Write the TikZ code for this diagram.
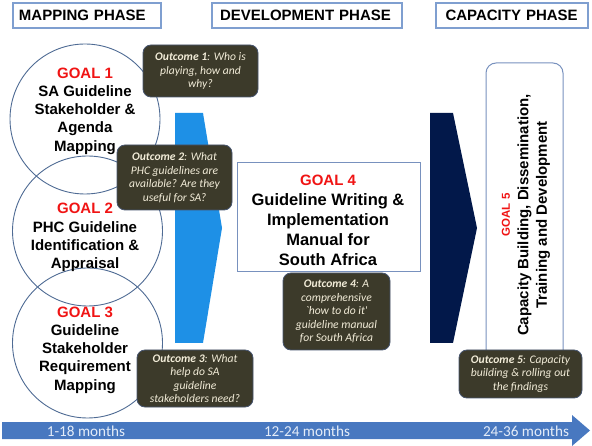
\documentclass[tikz,border=0pt]{standalone}
\usepackage{fontspec}
\setmainfont{Liberation Sans}
\newfontfamily\outfont{Carlito}
\definecolor{chevblue}{RGB}{30,144,230}
\definecolor{navy}{RGB}{2,24,74}
\definecolor{outfill}{RGB}{60,58,42}
\definecolor{outdraw}{RGB}{70,84,110}
\definecolor{outtext}{RGB}{242,236,216}
\definecolor{circdraw}{RGB}{79,107,148}
\definecolor{phasedraw}{RGB}{127,159,208}
\definecolor{boxdraw}{RGB}{120,145,190}
\definecolor{goalred}{RGB}{240,20,20}
\definecolor{timeblue}{RGB}{72,120,192}
\definecolor{timetext}{RGB}{228,236,248}
\begin{document}
\begin{tikzpicture}[x=1pt,y=-1pt,
  phasebox/.style={draw=phasedraw, line width=1.2pt, fill=white, minimum height=25pt,
    align=left, font=\bfseries\fontsize{15}{18}\selectfont, inner ysep=0pt},
  goalcircle/.style={draw=circdraw, line width=0.9pt, circle, minimum size=150pt, inner sep=0pt},
  goaltext/.style={align=center, font=\bfseries\fontsize{15}{18.3}\selectfont, inner sep=0pt},
  outbox/.style={draw=outdraw, line width=0.8pt, fill=outfill, rounded corners=8pt,
    text=outtext, align=center, inner sep=2pt,
    font=\outfont\itshape\fontsize{11.6}{13.6}\selectfont},
  whitebox/.style={draw=boxdraw, line width=1pt, fill=white, inner sep=0pt},
  monthtext/.style={text=timetext, font=\outfont\fontsize{15.2}{16}\selectfont, inner sep=0pt}
]
\useasboundingbox (0,0) rectangle (592,446);

% phase headers
\node[phasebox, minimum width=148pt, text width=136pt, inner xsep=6pt] (ph1) at (87,15.5) {MAPPING PHASE};
\node[phasebox, minimum width=190pt, text width=174pt, inner xsep=8pt] (ph2) at (307,15.5) {DEVELOPMENT PHASE};
\node[phasebox, minimum width=152pt, text width=133pt, inner xsep=9.5pt] (ph3) at (512,15.5) {CAPACITY PHASE};

% circles
\node[goalcircle] (c1) at (85,119) {};
\node[goalcircle] (c2) at (87.5,231) {};
\node[goalcircle] (c3) at (87.5,343) {};
\node[goaltext] (g1) at (85,111) {\textcolor{goalred}{GOAL 1}\\SA Guideline\\Stakeholder \&\\Agenda\\Mapping};
\node[goaltext] (g2) at (85,237.5) {\textcolor{goalred}{GOAL 2}\\PHC Guideline\\Identification \&\\Appraisal};
\node[goaltext] (g3) at (85,350) {\textcolor{goalred}{GOAL 3}\\Guideline\\Stakeholder\\Requirement\\Mapping};

% chevrons
\fill[chevblue] (175,113) -- (203,113) -- (222,228) -- (203,343) -- (175,343) -- cycle;
\fill[navy] (430,113) -- (453,113) -- (477,228) -- (453,343) -- (430,343) -- cycle;

% goal 4
\node[whitebox, minimum width=183pt, minimum height=109pt] (g4box) at (328.5,217.5) {};
\node[align=center, inner sep=0pt, font=\bfseries\fontsize{16.5}{20}\selectfont] (g4) at (328,220)
  {{\fontsize{15}{20}\selectfont\textcolor{goalred}{GOAL 4}}\\Guideline Writing \&\\Implementation\\Manual for\\South Africa};

% goal 5
\node[whitebox, rounded corners=10pt, minimum width=77pt, minimum height=300pt] (g5box) at (524.5,213) {};
\node[rotate=90, align=center, inner sep=0pt, font=\bfseries\fontsize{15}{18.5}\selectfont] (g5) at (526,215)
  {{\fontsize{11.5}{18.5}\selectfont\textcolor{goalred}{GOAL 5}}\\Capacity Building, Dissemination,\\Training and Development};

% outcomes
\node[outbox, minimum width=115pt, minimum height=52pt] (o1) at (200.5,71)
  {\textbf{Outcome 1}: Who is\\playing, how and\\why?};
\node[outbox, minimum width=115pt, minimum height=65pt] (o2) at (174.5,177.5)
  {\textbf{Outcome 2}: What\\PHC guidelines are\\available? Are they\\useful for SA?};
\node[outbox, minimum width=116pt, minimum height=57pt] (o3) at (195,378.5)
  {\textbf{Outcome 3}: What\\help do SA\\guideline\\stakeholders need?};
\node[outbox, minimum width=107pt, minimum height=77pt] (o4) at (336.5,311.5)
  {\textbf{Outcome 4}: A\\comprehensive\\`how to do it'\\guideline manual\\for South Africa};
\node[outbox, minimum width=123pt, minimum height=48pt] (o5) at (520.5,374)
  {\textbf{Outcome 5}: Capacity\\building \& rolling out\\the findings};

% time arrow
\fill[timeblue] (2,422) -- (572,422) -- (572,415) -- (590,430.5) -- (572,446) -- (572,439) -- (2,439) -- cycle;
\node[monthtext] (m1) at (86,431.5) {1-18 months};
\node[monthtext] (m2) at (307,431.5) {12-24 months};
\node[monthtext] (m3) at (526,431.5) {24-36 months};
\end{tikzpicture}
\end{document}
